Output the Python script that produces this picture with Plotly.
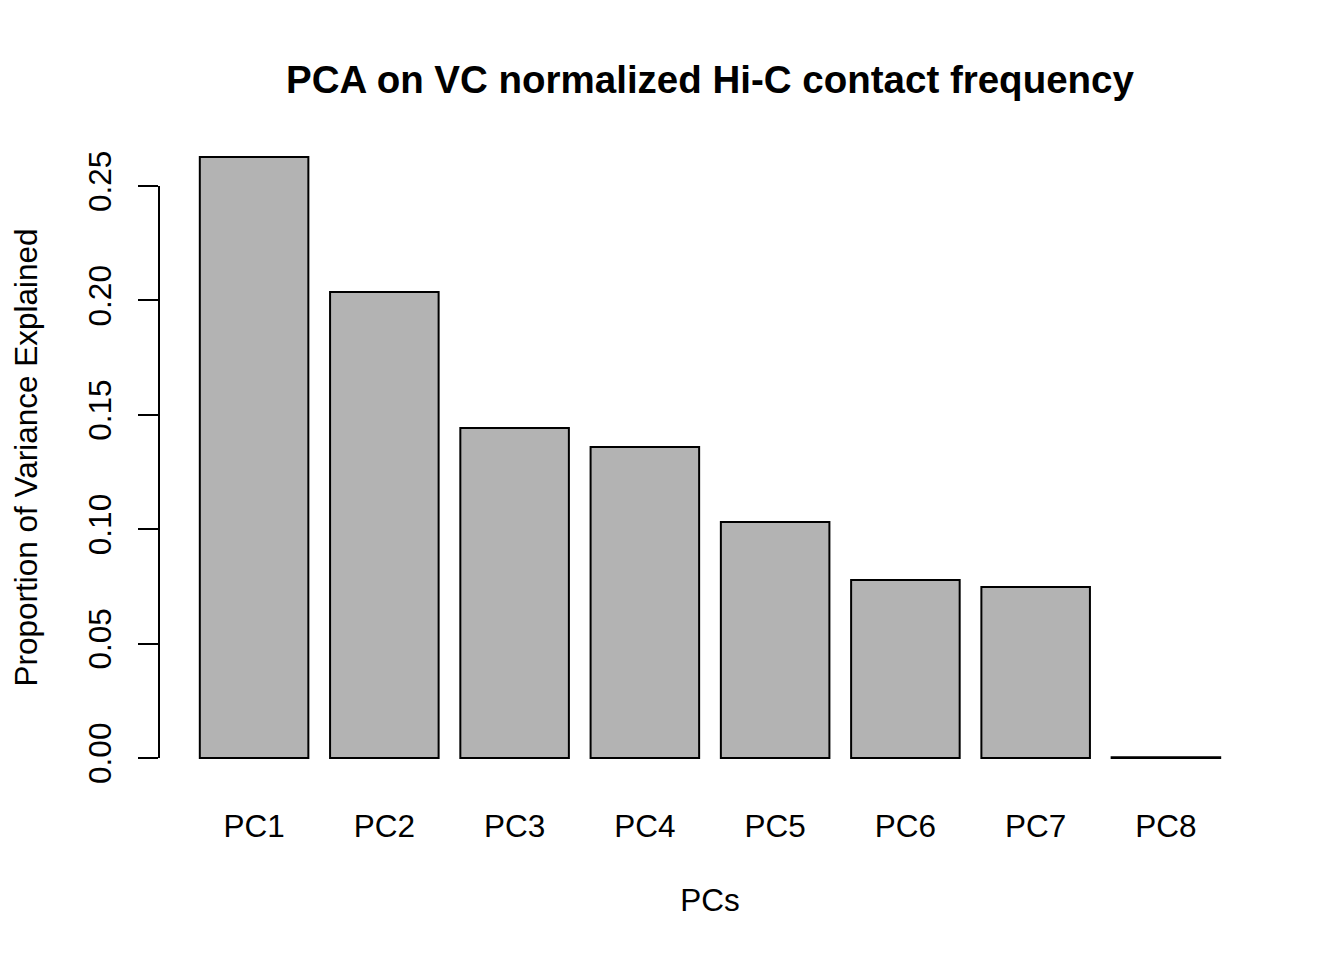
import plotly.graph_objects as go

categories = ["PC1", "PC2", "PC3", "PC4", "PC5", "PC6", "PC7", "PC8"]
variance = [0.2627, 0.2037, 0.1442, 0.1359, 0.1031, 0.0778, 0.0747, 0.0003]
y_ticks = [0.00, 0.05, 0.10, 0.15, 0.20, 0.25]

# R barplot geometry: width 1, space 0.2
positions = [0.7 + 1.2 * i for i in range(len(categories))]
xmin, xmax = 0.2, 0.2 + 1.2 * len(categories) - 0.2
xpad = (xmax - xmin) * 0.04
ymax = max(variance)
ypad = ymax * 0.04

FONT = "Liberation Sans, Arial, Helvetica, sans-serif"
FS = 31.5

fig = go.Figure(go.Bar(
    x=positions,
    y=variance,
    width=1,
    marker=dict(color="#B3B3B3", line=dict(color="black", width=2)),
    hoverinfo="skip",
))

fig.update_layout(
    width=1344, height=960,
    margin=dict(l=147, r=91, t=125, b=186),
    paper_bgcolor="white", plot_bgcolor="white",
    showlegend=False,
    font=dict(family=FONT, size=FS, color="black"),
    title=dict(
        text="<b>PCA on VC normalized Hi-C contact frequency</b>",
        x=0.5, xref="paper", xanchor="center",
        y=1 - 72 / 960, yref="container", yanchor="middle",
        font=dict(family=FONT, size=38.5, color="black"),
    ),
    xaxis=dict(
        range=[xmin - xpad, xmax + xpad],
        tickmode="array", tickvals=positions, ticktext=categories,
        showline=False, showgrid=False, zeroline=False, ticks="",
        ticklabelstandoff=22,
        title=dict(text="PCs", standoff=46, font=dict(size=FS)),
    ),
    yaxis=dict(
        range=[-ypad, ymax + ypad],
        tickmode="array", tickvals=y_ticks,
        ticktext=[f"{v:.2f}" for v in y_ticks],
        tickangle=-90,
        showline=False, showgrid=False, zeroline=False,
        ticks="outside", ticklen=20, tickwidth=2, tickcolor="black",
        ticklabelstandoff=14,
        title=dict(text="Proportion of Variance Explained", standoff=40, font=dict(size=FS)),
    ),
    shapes=[dict(
        type="line", xref="paper", yref="y",
        x0=0, x1=0, y0=y_ticks[0], y1=y_ticks[-1],
        line=dict(color="black", width=2),
    )],
)

fig.write_html("out.html")
